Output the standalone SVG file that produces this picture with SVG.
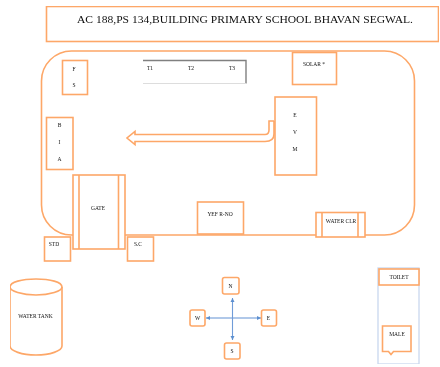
<svg xmlns="http://www.w3.org/2000/svg" width="440" height="367" viewBox="0 0 440 367">
<style>
.o{fill:#fff;stroke:#fda768;stroke-width:1.6}
.n{fill:none;stroke:#fda768;stroke-width:1.6}
.t{font-family:"Liberation Serif",serif;font-size:5.500px;fill:#111;text-anchor:middle}
.b{stroke:#6f9cd8;stroke-width:1.100;fill:none}
</style>
<defs>
<filter id="soft" x="0" y="0" width="100%" height="100%"><feGaussianBlur stdDeviation="0.45"/></filter>
<marker id="ah" markerWidth="5" markerHeight="5" refX="4" refY="2.5" orient="auto-start-reverse"><path d="M0 0.5L4 2.5L0 4.500Z" fill="#5b8fd0"/></marker>
</defs>
<rect width="440" height="367" fill="#fff"/>
<g filter="url(#soft)">
<g id="title"><rect class="o" x="46.500" y="6.500" width="392" height="35"/><text class="t" x="245" y="22.500" textLength="336" lengthAdjust="spacingAndGlyphs" style="font-size:11px">AC 188,PS 134,BUILDING PRIMARY SCHOOL BHAVAN SEGWAL.</text></g>
<g id="building"><rect class="o" x="41.500" y="51" width="373" height="184" rx="30" ry="30"/></g>
<g id="connectors">
<path class="n" d="M274 121V134Q274 141.500 265 141.500H135V144.500L127 138L135 131.500V134.500H265Q269 134.500 269 130V121H274"/>
<path class="b" d="M232.500 319V298" marker-end="url(#ah)"/>
<path class="b" d="M232.500 318V340" marker-end="url(#ah)"/>
<path class="b" d="M232 318H206" marker-end="url(#ah)"/>
<path class="b" d="M232 318H261" marker-end="url(#ah)"/>
</g>
<g id="fs"><rect class="o" x="62.500" y="60.500" width="25" height="34"/><text class="t" x="74" y="71">F</text><text class="t" x="74" y="87">S</text></g>
<g id="windows"><path d="M143 60.500H246V83.500" fill="none" stroke="#808080" stroke-width="1.400"/><path d="M143 83.500H246" stroke="#ddd" stroke-width="1.200"/><text class="t" x="150" y="70">T1</text><text class="t" x="191" y="70">T2</text><text class="t" x="232" y="70">T3</text></g>
<g id="solar"><rect class="o" x="292.500" y="52.500" width="44" height="32"/><text class="t" x="314" y="66">SOLAR *</text></g>
<g id="bia"><rect class="o" x="46.500" y="117.500" width="26.500" height="52"/><text class="t" x="59.500" y="127">B</text><text class="t" x="59.500" y="143.500">I</text><text class="t" x="59.500" y="161">A</text></g>
<g id="evm"><rect class="o" x="275" y="97" width="41.500" height="78"/><text class="t" x="295" y="117">E</text><text class="t" x="295" y="134">V</text><text class="t" x="295" y="151">M</text></g>
<g id="gate"><rect class="o" x="73" y="175" width="52" height="74"/><path class="n" d="M79 175V249M118.500 175V249"/><text class="t" x="98" y="210">GATE</text></g>
<g id="std"><rect class="o" x="44.500" y="237" width="26" height="24"/><text class="t" x="54" y="246">STD</text></g>
<g id="sc"><rect class="o" x="127.500" y="237" width="26" height="24"/><text class="t" x="138" y="246">S.C</text></g>
<g id="ramp"><rect class="o" x="197.500" y="202" width="46" height="32"/><text class="t" x="220" y="216">YEF R-NO</text></g>
<g id="water"><rect class="o" x="316" y="212.500" width="49" height="24.500"/><path class="n" d="M322 212.500V237M358 212.500V237"/><text class="t" x="341" y="223">WATER CLR</text></g>
<g id="tank"><path class="o" d="M10 287C10 282 22 279 36 279S62 282 62 287V346C62 351 50 355 36 355S10 351 10 346Z"/><path class="n" d="M10 287C10 291 22 295 36 295S62 291 62 287"/><text class="t" x="35.500" y="318">WATER TANK</text></g>
<g id="n"><rect class="o" x="222.500" y="277.500" width="16.500" height="16.500" rx="2"/><text class="t" x="230.500" y="288">N</text></g>
<g id="w"><rect class="o" x="190" y="310" width="15" height="16" rx="2"/><text class="t" x="197.500" y="320">W</text></g>
<g id="e"><rect class="o" x="261.500" y="310" width="15" height="16" rx="2"/><text class="t" x="268.500" y="320">E</text></g>
<g id="s"><rect class="o" x="224.500" y="343" width="15.500" height="16" rx="2"/><text class="t" x="232" y="353">S</text></g>
<g id="toilet"><rect x="378" y="268" width="41" height="96" fill="#fff" stroke="#c9d8ee" stroke-width="1.300"/><rect class="o" x="379" y="269" width="40" height="16"/><text class="t" x="399" y="279">TOILET</text></g>
<g id="male"><path class="o" d="M382.500 326H411V351.500H393.500L391 354.500L388.500 351.500H382.500Z"/><text class="t" x="397" y="336">MALE</text></g>
</g>
</svg>
